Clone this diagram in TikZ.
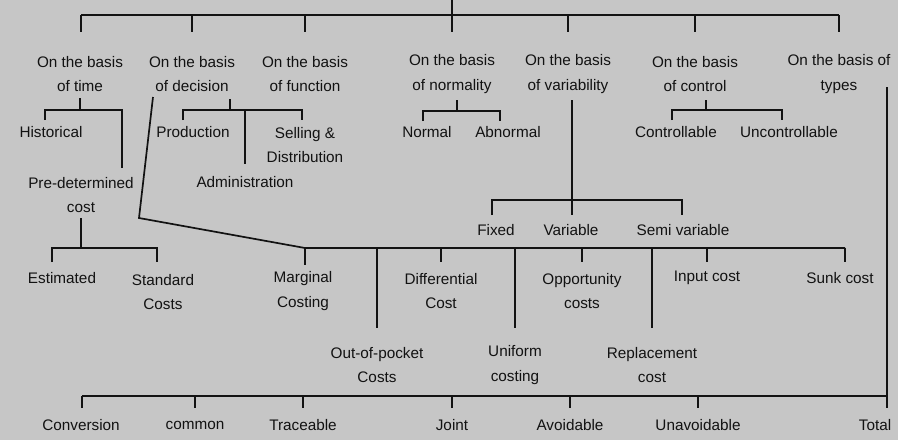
\documentclass[tikz,border=0pt]{standalone}
\usepackage{fontspec}
\setmainfont{Liberation Sans}
\definecolor{paper}{RGB}{198,198,198}
\definecolor{ink}{RGB}{18,18,18}
\begin{document}
\begin{tikzpicture}[x=1pt,y=-1pt,
  lbl/.style={align=center,inner sep=0pt,text=ink,font=\fontsize{15.3}{24.5}\selectfont},
  ln/.style={line width=1.7pt,draw=ink}]

\fill [paper] (0,0) rectangle (898,440);
\useasboundingbox (0,0) rectangle (898,440);

% first level
\node[lbl] (time) at (80,74) {On the basis\\of time};
\node[lbl] (decision) at (192,74) {On the basis\\of decision};
\node[lbl] (function) at (305,74) {On the basis\\of function};
\node[lbl] (normality) at (452,74) {On the basis\\of normality};
\node[lbl] (variability) at (568,74) {On the basis\\of variability};
\node[lbl] (control) at (695,74) {On the basis\\of control};
\node[lbl] (types) at (839,74) {On the basis of\\types};

% second level
\node[lbl] (hist) at (51,132) {Historical};
\node[lbl] (predet) at (81,195) {Pre-determined\\cost};
\node[lbl] (prod) at (193,132) {Production};
\node[lbl] (selling) at (305,145) {Selling \&\\Distribution};
\node[lbl] (admin) at (245,182) {Administration};
\node[lbl] (normal) at (427,132) {Normal};
\node[lbl] (abnormal) at (508,132) {Abnormal};
\node[lbl] (contr) at (676,132) {Controllable};
\node[lbl] (uncontr) at (789,132) {Uncontrollable};
\node[lbl] (fixed) at (496,230) {Fixed};
\node[lbl] (variable) at (571,230) {Variable};
\node[lbl] (semivar) at (683,230) {Semi variable};

% costs hanging from the long bar
\node[lbl] (estimated) at (62,278) {Estimated};
\node[lbl] (standard) at (163,292) {Standard\\Costs};
\node[lbl] (marginal) at (303,291) {Marginal\\Costing};
\node[lbl] (differential) at (441,291) {Differential\\Cost};
\node[lbl] (opportunity) at (582,291) {Opportunity\\costs};
\node[lbl] (inputcost) at (707,278) {Input cost};
\node[lbl] (sunkcost) at (840,278) {Sunk cost};
\node[lbl] (outofpocket) at (377,365) {Out-of-pocket\\Costs};
\node[lbl] (uniform) at (515,365) {Uniform\\costing};
\node[lbl] (replacement) at (652,365) {Replacement\\cost};

% types
\node[lbl] (conversion) at (81,425) {Conversion};
\node[lbl] (common) at (195,425) {common};
\node[lbl] (traceable) at (303,425) {Traceable};
\node[lbl] (joint) at (452,425) {Joint};
\node[lbl] (avoidable) at (570,425) {Avoidable};
\node[lbl] (unavoidable) at (698,425) {Unavoidable};
\node[lbl] (total) at (875,425) {Total};

% top bar
\coordinate (root) at (452,0);
\coordinate (topL) at (81,15);
\coordinate (topR) at (839,15);
\draw [ln] (root) -- ++(0,32);
\draw [ln] (topL) -- (topR);
\draw [ln] (topL) -- ++(0,17);
\foreach \n in {decision,function,variability,control,types}
  \draw [ln] (topL -| \n) -- ++(0,17);

% time
\coordinate (tmL) at (45,110);
\coordinate (tmR) at (122,110);
\draw [ln] (tmL -| time) -- ++(0,-12);
\draw [ln] (tmL) ++(0,10) -- (tmL) -- (tmR) -- ++(0,58);
\coordinate (pdL) at (52,248);
\coordinate (pdR) at (157,248);
\draw [ln] (pdL -| predet) -- ++(0,-30);
\draw [ln] (pdL) ++(0,14) -- (pdL) -- (pdR) -- ++(0,14);

% decision
\coordinate (dcT) at (230,99);
\coordinate (dcL) at (183,110);
\coordinate (dcR) at (302,110);
\draw [ln] (dcT) -- (dcT |- dcL);
\draw [ln] (dcL) ++(0,10) -- (dcL) -- (dcR) -- ++(0,10);
\draw [ln] (dcL -| admin) -- ++(0,54);

% normality
\coordinate (nmT) at (457,100);
\coordinate (nmL) at (423,111);
\coordinate (nmR) at (500,111);
\draw [ln] (nmT) -- (nmT |- nmL);
\draw [ln] (nmL) ++(0,10) -- (nmL) -- (nmR) -- ++(0,10);

% variability
\coordinate (vrT) at (572,100);
\coordinate (vrL) at (492,200);
\coordinate (vrR) at (682,200);
\draw [ln] (vrT) -- ++(0,115);
\draw [ln] (vrL) ++(0,15) -- (vrL) -- (vrR) -- ++(0,15);

% control
\coordinate (ctT) at (706,100);
\coordinate (ctL) at (672,110);
\coordinate (ctR) at (782,110);
\draw [ln] (ctT) -- (ctT |- ctL);
\draw [ln] (ctL) ++(0,10) -- (ctL) -- (ctR) -- ++(0,10);

% slanted line and long bar
\coordinate (slT) at (153,97);
\coordinate (slB) at (139,218);
\coordinate (mnL) at (305,248);
\coordinate (mnR) at (845,248);
\draw [ln] (slT) -- (slB) -- (mnL) -- (mnR);
\draw [ln] (mnL) -- ++(0,17);
\draw [ln] (mnR) -- ++(0,14);
\foreach \n in {differential,opportunity,inputcost}
  \draw [ln] (mnL -| \n) -- ++(0,14);
\foreach \n in {outofpocket,uniform,replacement}
  \draw [ln] (mnL -| \n) -- ++(0,80);

% bottom bar
\coordinate (tyT) at (887,87);
\coordinate (btL) at (82,396);
\coordinate (btR) at (887,396);
\draw [ln] (tyT) -- (btR) -- ++(0,12);
\draw [ln] (btL) -- (btR);
\draw [ln] (btL) -- ++(0,12);
\foreach \n in {common,traceable,joint,avoidable,unavoidable}
  \draw [ln] (btL -| \n) -- ++(0,12);
\end{tikzpicture}
\end{document}
